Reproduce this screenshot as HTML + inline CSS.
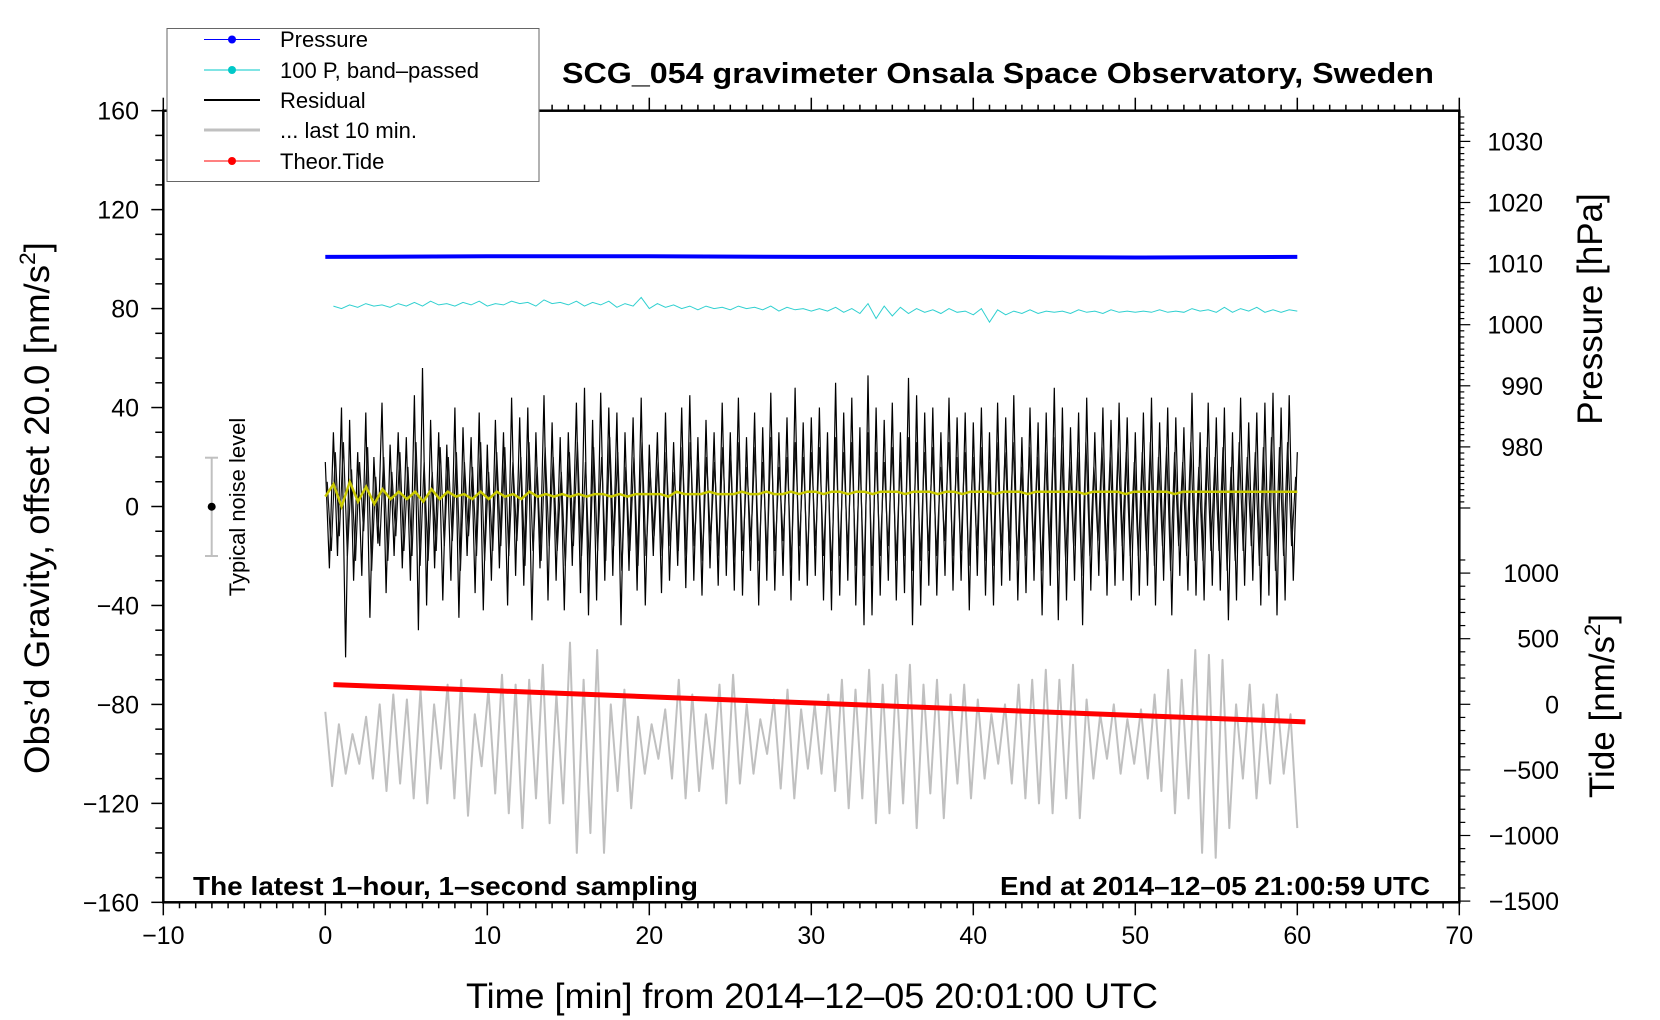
<!DOCTYPE html>
<html><head><meta charset="utf-8"><style>
html,body{margin:0;padding:0;background:#fff;}
svg{display:block;font-family:"Liberation Sans",sans-serif;}
</style></head><body>
<svg id="chart" width="1660" height="1020" viewBox="0 0 1660 1020" xmlns="http://www.w3.org/2000/svg">
<rect width="1660" height="1020" fill="#fff"/>
<g id="axes"></g>
<g id="series"></g>
<text x="998" y="83" text-anchor="middle" font-size="29" font-weight="bold" textLength="872" lengthAdjust="spacingAndGlyphs">SCG_054 gravimeter Onsala Space Observatory, Sweden</text>
<text x="812" y="1008" text-anchor="middle" font-size="35" textLength="692" lengthAdjust="spacingAndGlyphs">Time [min] from 2014–12–05 20:01:00 UTC</text>
<text transform="translate(49,508) rotate(-90)" text-anchor="middle" font-size="35" textLength="532" lengthAdjust="spacingAndGlyphs">Obs’d Gravity, offset 20.0 [nm/s<tspan font-size="22" dy="-14">2</tspan><tspan dy="14">]</tspan></text>
<text transform="translate(1602,309) rotate(-90)" text-anchor="middle" font-size="35">Pressure [hPa]</text>
<text transform="translate(1614,706) rotate(-90)" text-anchor="middle" font-size="35">Tide [nm/s<tspan font-size="22" dy="-14">2</tspan><tspan dy="14">]</tspan></text>
<text x="193" y="895" font-size="26" font-weight="bold" textLength="505" lengthAdjust="spacingAndGlyphs">The latest 1–hour, 1–second sampling</text>
<text x="1430" y="895" text-anchor="end" font-size="26" font-weight="bold" textLength="430" lengthAdjust="spacingAndGlyphs">End at 2014–12–05 21:00:59 UTC</text>
<g>
<line x1="211.7" y1="457.7" x2="211.7" y2="556" stroke="#c0c0c0" stroke-width="2"/>
<line x1="205" y1="457.7" x2="218" y2="457.7" stroke="#c0c0c0" stroke-width="2"/>
<line x1="205" y1="556" x2="218" y2="556" stroke="#c0c0c0" stroke-width="2"/>
<circle cx="211.7" cy="506.7" r="4" fill="#000"/>
<text transform="translate(245,507) rotate(-90)" text-anchor="middle" font-size="22">Typical noise level</text>
</g>
<g>
<rect x="167" y="28.5" width="372" height="153" fill="#fff" stroke="#666" stroke-width="1"/>
<g><line x1="204" y1="39.5" x2="260" y2="39.5" stroke="#0000ff" stroke-width="1"/><circle cx="232" cy="39.5" r="4" fill="#0000ff"/><text x="280" y="47" font-size="22">Pressure</text></g>
<g><line x1="204" y1="70" x2="260" y2="70" stroke="#00c8c8" stroke-width="1"/><circle cx="232" cy="70" r="4" fill="#00c8c8"/><text x="280" y="78" font-size="22">100 P, band–passed</text></g>
<g><line x1="204" y1="100" x2="260" y2="100" stroke="#000" stroke-width="2"/><text x="280" y="108" font-size="22">Residual</text></g>
<g><line x1="204" y1="130" x2="260" y2="130" stroke="#c0c0c0" stroke-width="3"/><text x="280" y="138" font-size="22">... last 10 min.</text></g>
<g><line x1="204" y1="161" x2="260" y2="161" stroke="#ff0000" stroke-width="1"/><circle cx="232" cy="161" r="4" fill="#ff0000"/><text x="280" y="169" font-size="22">Theor.Tide</text></g>
</g>
</svg>
<script>
// ---- data ----
const xTicks = [-10, 0, 10, 20, 30, 40, 50, 60, 70];
const yTicks = [-160, -120, -80, -40, 0, 40, 80, 120, 160];
const pressureTicks = [980, 990, 1000, 1010, 1020, 1030];
const tideTicks = [-1500, -1000, -500, 0, 500, 1000];
const pressureValues = [1011.1, 1011.2, 1011.2, 1011.1, 1011.1, 1011.0, 1011.1];
const bandPassed = [81,80,81.5,80.5,82,81,81.5,80.5,82,81,82.5,81,83,81.5,82,81,82.5,81.5,83,81,
82,81.5,83,82,82.5,81,83.5,82,82.5,81.5,83,81,82.5,81.5,83,80.5,82,81,84.5,80,
82,80.5,81.5,80,81,79.5,81,80,80.5,79.5,81,80,80.5,79.5,81,79,80.5,79.5,80,79,
80,79,80.5,78.5,80,78,82,76,81,77,80.5,78,80,78.5,79.5,78,80,78.5,79,77.5,
80,74.5,79.5,77.5,79,78,79.5,78,79,78.5,79,78,79.5,78.5,79,78,79.5,78.5,79,78.5,
79,78.5,79.5,78.5,79,78.5,80,79,79.5,78.5,80.5,78.5,80,79,80.5,78.5,79.5,78.5,79.5,79];
const residual = [18,-25,30,-20,40,-61,35,-30,22,-28,38,-45,20,-15,42,-35,25,-20,30,-25,
28,-30,45,-50,56,-40,35,-25,30,-38,25,-30,40,-45,32,-20,28,-35,38,-42,
25,-30,35,-25,30,-40,44,-28,36,-32,40,-46,30,-25,45,-38,34,-30,28,-42,
30,-24,42,-35,48,-44,35,-38,46,-30,40,-28,38,-48,30,-26,36,-34,44,-40,
25,-20,30,-35,38,-30,26,-24,40,-33,45,-30,28,-36,35,-25,30,-32,42,-28,
30,-34,44,-36,28,-26,38,-40,32,-30,46,-34,30,-28,36,-38,48,-30,34,-32,
36,-28,40,-38,30,-42,50,-36,38,-30,44,-40,32,-48,53,-44,40,-36,35,-30,
42,-38,30,-35,52,-48,45,-40,38,-32,40,-36,30,-28,44,-34,36,-30,38,-42,
34,-28,40,-36,30,-40,42,-32,36,-30,45,-38,28,-35,40,-30,34,-44,38,-32,
48,-46,40,-38,32,-30,38,-48,44,-34,30,-28,40,-36,35,-32,42,-30,36,-38,
30,-36,38,-32,44,-40,34,-30,40,-44,36,-28,32,-34,46,-36,30,-38,42,-32,
36,-34,40,-46,30,-38,44,-32,34,-30,38,-40,42,-36,46,-44,40,-38,45,-30,22];
const residualB = [10,-18,22,-12,26,-20,15,-22,18,-10,24,-26,12,-16,20,-22,14,-12,22,-18,
16,-20,26,-24,18,-22,14,-18,24,-16,20,-14,22,-26,18,-12,16,-20,26,-22,
14,-18,22,-16,24,-20,18,-14,20,-24,26,-18,16,-22,24,-16,20,-18,14,-24,
22,-16,26,-20,18,-26,24,-18,20,-22,28,-16,22,-26,16,-18,20,-24,26,-20,
14,-12,18,-20,22,-16,14,-18,24,-20,26,-16,18,-22,20,-14,18,-20,24,-16,
20,-22,26,-18,16,-14,24,-22,18,-20,28,-18,16,-14,20,-24,26,-16,20,-22,
22,-16,24,-20,18,-26,28,-20,22,-18,26,-24,20,-28,30,-24,22,-20,18,-16,
24,-22,18,-20,28,-26,26,-22,22,-18,24,-20,16,-14,26,-20,20,-18,22,-24,
20,-16,24,-22,18,-24,26,-18,22,-16,26,-22,16,-20,24,-18,20,-26,22,-18,
28,-26,24,-22,18,-16,22,-28,26,-20,16,-14,24,-22,20,-18,24,-16,22,-20,
18,-20,22,-18,26,-24,20,-16,24,-26,22,-16,18,-20,26,-22,16,-22,24,-18,
20,-18,24,-26,16,-22,26,-18,20,-16,22,-24,24,-20,28,-26,24,-20,26,-16,12];
const residualMean = [4,9,0,10,2,8,1,7,3,6,3,6,2,7,3,6,4,5,3,6,3,6,4,5,3,6,4,5,4,5,4,5,4,5,5,4,5,4,5,5,
5,5,4,6,5,5,5,6,5,5,5,6,5,5,6,5,5,6,5,6,6,5,6,6,5,6,6,5,6,6,6,5,6,6,6,5,6,6,5,6,
6,6,5,6,6,6,5,6,6,6,6,6,6,5,6,6,6,6,5,6,6,6,6,6,5,6,6,6,6,6,6,6,6,6,6,6,6,6,6,6];
const last10 = [-83,-113,-88,-108,-92,-104,-85,-110,-80,-115,-76,-112,-78,-118,-74,-120,-80,-106,-72,-118,-70,-125,-84,-105,
-74,-116,-68,-124,-72,-130,-70,-118,-64,-128,-76,-120,-55,-140,-70,-132,-58,-140,-80,-115,-74,-122,-85,-108,
-88,-102,-82,-110,-70,-118,-76,-115,-84,-106,-72,-120,-68,-112,-80,-108,-86,-100,-78,-114,-74,-118,-82,-106,
-80,-108,-76,-115,-70,-122,-74,-118,-66,-128,-72,-124,-68,-120,-64,-130,-72,-116,-70,-126,-76,-112,-72,-118,
-78,-110,-84,-104,-80,-112,-72,-118,-70,-120,-66,-124,-70,-118,-64,-126,-78,-110,-84,-102,-80,-108,-86,-104,
-82,-110,-76,-115,-66,-124,-70,-118,-58,-140,-60,-142,-62,-130,-80,-110,-72,-118,-80,-112,-76,-108,-84,-130];
const tideTimes = [0.5, 10.5, 20.5, 30.5, 40.5, 50.5, 60.5];
const tideValues = [150, 103, 55, 8, -40, -87, -134];

// ---- axis functions ----
const X0 = 163.3, X1 = 1459.3, Y0 = 110.7, Y1 = 902.3;
const xs = t => X0 + (t + 10) * 16.2;
const yg = v => 506.5 - v * 2.474;
const yp = p => 324.7 - (p - 1000) * 6.11;
const yt = n => 704.3 - n * 0.1312;
const NS = 'http://www.w3.org/2000/svg';
function mk(tag, attrs, parent) {
  const e = document.createElementNS(NS, tag);
  for (const k in attrs) e.setAttribute(k, attrs[k]);
  parent.appendChild(e);
  return e;
}
const axes = document.getElementById('axes');
const series = document.getElementById('series');

let fr = mk('rect', {x: X0, y: Y0, width: X1 - X0, height: Y1 - Y0, fill: 'none', stroke: '#000', 'stroke-width': 2.5}, axes);



for (let t = -10; t <= 70; t++) {
  const maj = t % 10 === 0;
  const L = maj ? 13 : 6;
  mk('line', {x1: xs(t), y1: Y1, x2: xs(t), y2: Y1 + L, stroke: '#000', 'stroke-width': 1.5}, axes);
  mk('line', {x1: xs(t), y1: Y0, x2: xs(t), y2: Y0 - L, stroke: '#000', 'stroke-width': 1.5}, axes);
}
xTicks.forEach(t => {
  const tx = mk('text', {x: xs(t), y: 944, 'text-anchor': 'middle', 'font-size': 25}, axes);
  
  
  tx.textContent = String(t).replace('-', '−');
});
for (let v = -160; v <= 160; v += 10) {
  const maj = v % 40 === 0;
  mk('line', {x1: X0, y1: yg(v), x2: X0 - (maj ? 12 : 8), y2: yg(v), stroke: '#000', 'stroke-width': 1.5}, axes);
}
yTicks.forEach(v => {
  const tx = mk('text', {x: 139, y: yg(v) + 9, 'text-anchor': 'end', 'font-size': 25}, axes);
  
  
  tx.textContent = String(v).replace('-', '−');
});
for (let p = 970; p <= 1034; p++) {
  const maj = p % 10 === 0;
  mk('line', {x1: X1, y1: yp(p), x2: X1 + (maj ? 11 : 5), y2: yp(p), stroke: '#000', 'stroke-width': 1.2}, axes);
}
pressureTicks.forEach(p => {
  const tx = mk('text', {x: 1543, y: yp(p) + 9, 'text-anchor': 'end', 'font-size': 25}, axes);
  
  
  tx.textContent = String(p);
});
for (let n = -1500; n <= 1100; n += 100) {
  const maj = n % 500 === 0;
  mk('line', {x1: X1, y1: yt(n), x2: X1 + (maj ? 11 : 6), y2: yt(n), stroke: '#000', 'stroke-width': 1.2}, axes);
}
tideTicks.forEach(n => {
  const tx = mk('text', {x: 1559, y: yt(n) + 9, 'text-anchor': 'end', 'font-size': 25}, axes);
  
  
  tx.textContent = String(n).replace('-', '−');
});

function pts(arr, fy, t0, t1) {
  const n = arr.length;
  return arr.map((v, i) => (xs(t0 + (t1 - t0) * i / (n - 1))).toFixed(1) + ',' + fy(v).toFixed(1)).join(' ');
}
let g;
g = mk('polyline', {points: pts(last10, yg, 0, 60), fill: 'none', stroke: '#c0c0c0', 'stroke-width': 2, 'stroke-linejoin': 'round'}, series);


g = mk('polyline', {points: pts(residual, yg, 0, 60), fill: 'none', stroke: '#000', 'stroke-width': 1.2}, series);


g = mk('polyline', {points: pts(residualB, yg, 0.12, 59.9), fill: 'none', stroke: '#111', 'stroke-width': 1.2}, series);


g = mk('polyline', {points: pts(residualMean, yg, 0, 60), fill: 'none', stroke: '#c8c800', 'stroke-width': 2.5}, series);


g = mk('polyline', {points: pts(bandPassed, yg, 0.5, 60), fill: 'none', stroke: '#30d0d0', 'stroke-width': 1}, series);


g = mk('polyline', {points: pts(pressureValues, yp, 0, 60), fill: 'none', stroke: '#0000ff', 'stroke-width': 4}, series);


g = mk('polyline', {points: tideValues.map((v, i) => xs(tideTimes[i]).toFixed(1) + ',' + yt(v).toFixed(1)).join(' '), fill: 'none', stroke: '#ff0000', 'stroke-width': 5}, series);


</script>
</body></html>
